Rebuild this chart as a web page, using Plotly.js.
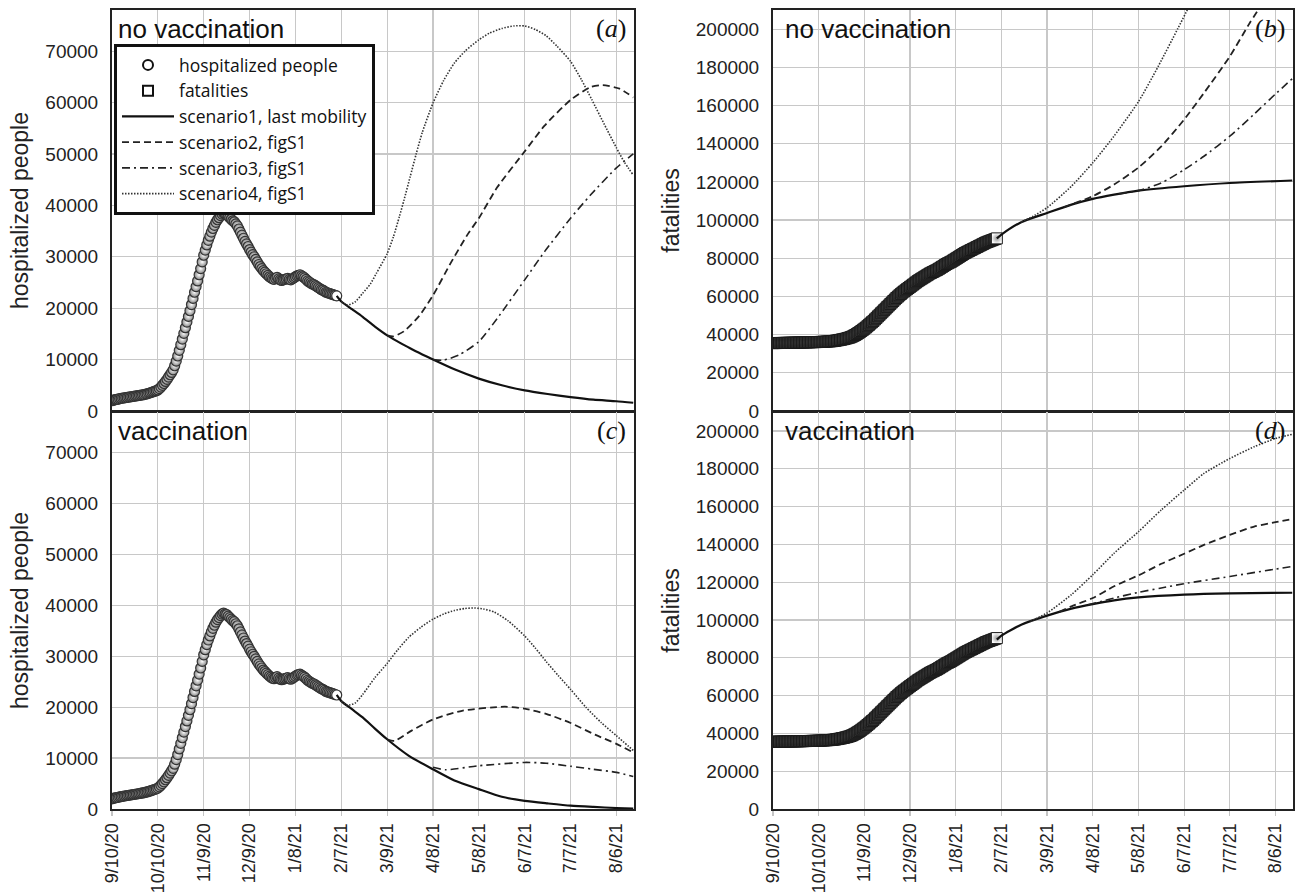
<!DOCTYPE html>
<html><head><meta charset="utf-8">
<script src="https://cdn.plot.ly/plotly-3.0.1.min.js"></script>
<style>html,body{margin:0;padding:0;background:#fff;}#chart{width:1301px;height:896px;}</style>
</head><body><div id="chart"></div>
<script>
// ---------------- DATA ----------------
const obsStart = '2020-09-10';
// observed hospitalized people, daily from 9/10/20 to 2/4/21
const hospitalized = [
 2000,2100,2200,2250,2300,2400,2450,2500,2550,2600,2650,2700,2750,2800,2850,2900,2950,3000,3050,3100,3150,
 3200,3300,3350,3450,3550,3650,3750,3850,3950,4100,
 4350,4650,5000,5350,5750,6150,6600,7050,7500,8000,
 8800,9700,10700,11800,12900,14000,15100,16200,17300,18400,19500,
 20700,21900,23100,24200,25300,26500,27700,29000,30300,
 31300,32300,33200,34000,34800,35500,36100,36700,37200,37600,38000,38300,38500,
 38300,38200,37900,37600,37300,37000,36800,36400,
 36000,35400,34800,34200,33600,33000,32500,32000,31400,
 30900,30400,30000,29500,29000,28500,28100,27700,27300,27000,26700,26400,26100,25900,25700,25600,
 25800,26000,25700,25500,25400,25500,
 25600,25700,25800,25600,25500,25700,25900,26100,26300,26400,26500,26300,
 26100,25900,25600,25300,25100,24900,24700,24600,24400,24200,24000,23800,23600,23500,23300,23100,23000,22900,22800,
 22700,22600,22500,22400
];
// observed cumulative fatalities, daily from 9/10/20 to 2/4/21
const fatalities = [
 35550,35560,35580,35600,35620,35630,35640,35660,35680,35690,35700,35720,35740,35760,35780,35800,35820,35840,35850,35870,35890,
 35920,35940,35970,35990,36020,36040,36060,36080,36100,36130,
 36170,36210,36250,36300,36350,36400,36450,36500,36590,36680,
 36800,36940,37090,37250,37400,37560,37750,37950,38170,38400,38650,
 39000,39400,39800,40300,40800,41300,41900,42500,43100,
 43700,44400,45100,45800,46500,47200,
 48000,48800,49600,50400,51200,52000,52800,
 53600,54400,55200,56000,56800,57600,58400,59200,
 59900,60600,61300,62000,62600,63200,63800,64400,65000,
 65600,66200,66800,67400,68000,68500,69000,69500,70000,70500,71000,
 71500,72000,72400,72800,73200,73600,74000,74500,75000,75500,76000,
 76500,77000,77400,77800,78200,78700,79200,79700,
 80200,80700,81200,81700,82200,82700,83100,83500,83900,84300,84700,85100,
 85500,85900,86300,86700,87100,87500,87900,88300,88600,88900,89200,
 89500,89800,90100,90400
];

// ---- panel (a): hospitalized, no vaccination ----
const aS1Dates = ['2021-02-04','2021-02-07','2021-02-14','2021-02-21','2021-03-01','2021-03-09','2021-03-16','2021-03-24','2021-04-01','2021-04-08','2021-04-22','2021-05-08','2021-05-23','2021-06-07','2021-06-22','2021-07-07','2021-07-22','2021-08-06','2021-08-17'];
const aS1Vals  = [22400,21300,19800,18300,16400,14700,13500,12200,11000,10000,8100,6300,5000,4000,3300,2700,2200,1900,1600];
const aS2Dates = ['2021-03-09','2021-03-13','2021-03-20','2021-03-30','2021-04-08','2021-04-20','2021-05-01','2021-05-08','2021-05-20','2021-06-07','2021-06-20','2021-07-07','2021-07-20','2021-07-28','2021-08-08','2021-08-17'];
const aS2Vals  = [14700,14500,15500,18500,22500,29000,34500,37500,43500,50500,55500,60500,63000,63400,62700,61000];
const aS3Dates = ['2021-04-08','2021-04-15','2021-04-25','2021-05-08','2021-05-20','2021-06-07','2021-06-20','2021-07-07','2021-07-20','2021-08-06','2021-08-17'];
const aS3Vals  = [10000,9900,10900,13500,18000,25500,31000,37500,42000,47300,50000];
const aS4Dates = ['2021-02-07','2021-02-11','2021-02-16','2021-02-21','2021-02-26','2021-03-02','2021-03-09','2021-03-13','2021-03-17','2021-03-20','2021-03-24','2021-03-28','2021-04-01','2021-04-08','2021-04-15','2021-04-22','2021-04-29','2021-05-08','2021-05-15','2021-05-23','2021-05-31','2021-06-07','2021-06-14','2021-06-21','2021-06-28','2021-07-07','2021-07-14','2021-07-21','2021-07-29','2021-08-06','2021-08-11','2021-08-17'];
const aS4Vals  = [21300,20600,21200,22900,24700,26800,30600,33800,37800,41000,45500,50000,54200,59900,64300,67700,70000,72200,73500,74400,74900,74900,74200,73000,71000,68000,64500,60500,55800,51200,48500,45900];

// ---- panel (c): hospitalized, vaccination ----
const cS1Dates = ['2021-02-04','2021-02-07','2021-02-14','2021-02-21','2021-03-01','2021-03-09','2021-03-23','2021-04-08','2021-04-22','2021-05-08','2021-05-23','2021-06-07','2021-06-22','2021-07-07','2021-07-22','2021-08-06','2021-08-17'];
const cS1Vals  = [22400,21200,19600,18000,15800,13700,10500,7800,5600,3900,2400,1600,1100,650,400,200,100];
const cS2Dates = ['2021-03-09','2021-03-14','2021-03-25','2021-04-08','2021-04-27','2021-05-25','2021-06-07','2021-06-21','2021-07-07','2021-07-23','2021-08-06','2021-08-17'];
const cS2Vals  = [13700,13400,15400,17600,19300,20100,19700,18700,16900,14600,12800,11100];
const cS3Dates = ['2021-04-08','2021-04-16','2021-05-08','2021-06-07','2021-06-21','2021-07-07','2021-07-22','2021-08-06','2021-08-17'];
const cS3Vals  = [8200,7700,8500,9150,9000,8400,7800,7200,6400];
const cS4Dates = ['2021-02-07','2021-02-11','2021-02-16','2021-02-21','2021-03-01','2021-03-09','2021-03-16','2021-03-23','2021-03-31','2021-04-08','2021-04-15','2021-04-22','2021-04-29','2021-05-05','2021-05-11','2021-05-18','2021-05-27','2021-06-07','2021-06-14','2021-06-21','2021-06-29','2021-07-07','2021-07-17','2021-07-27','2021-08-06','2021-08-17'];
const cS4Vals  = [21200,20400,20800,22500,25800,28600,31300,33700,35700,37300,38300,39000,39400,39500,39300,38700,37000,34000,31600,29000,26200,23500,20000,17000,14400,11500];

// ---- panel (b): fatalities, no vaccination ----
const bS1Dates = ['2021-02-04','2021-02-07','2021-02-20','2021-03-09','2021-03-25','2021-04-08','2021-04-22','2021-05-08','2021-06-07','2021-07-07','2021-08-17'];
const bS1Vals  = [90400,92400,98900,103700,108100,111100,113300,115400,117700,119400,120700];
const bS2Dates = ['2021-03-20','2021-04-08','2021-04-22','2021-05-08','2021-05-23','2021-06-07','2021-06-20','2021-07-07','2021-07-20','2021-07-26'];
const bS2Vals  = [106700,112500,118600,127500,138600,152600,166500,185700,203100,210500];
const bS3Dates = ['2021-04-25','2021-05-08','2021-05-23','2021-06-07','2021-06-20','2021-07-07','2021-07-23','2021-08-06','2021-08-17'];
const bS3Vals  = [113700,115400,119400,126400,133400,143900,155500,166000,174000];
const bS4Dates = ['2021-02-20','2021-03-01','2021-03-09','2021-03-25','2021-04-08','2021-04-22','2021-05-08','2021-05-21','2021-06-03','2021-06-10'];
const bS4Vals  = [98900,102500,106500,117700,130000,144000,162000,180500,200500,211500];

// ---- panel (d): fatalities, vaccination ----
const dS1Dates = ['2021-02-04','2021-02-07','2021-02-20','2021-03-09','2021-03-25','2021-04-08','2021-04-22','2021-05-08','2021-06-07','2021-07-07','2021-08-17'];
const dS1Vals  = [89600,91700,97500,102300,106000,108400,110400,111900,113400,114100,114400];
const dS2Dates = ['2021-03-17','2021-03-25','2021-04-08','2021-04-22','2021-05-08','2021-05-23','2021-06-07','2021-06-20','2021-07-07','2021-07-23','2021-08-06','2021-08-17'];
const dS2Vals  = [104300,107200,111600,117800,123600,129700,135000,139700,145000,149400,151700,153400];
const dS3Dates = ['2021-04-05','2021-04-22','2021-05-08','2021-05-23','2021-06-07','2021-07-07','2021-08-06','2021-08-17'];
const dS3Vals  = [108000,111600,114600,116900,119200,123000,126900,128300];
const dS4Dates = ['2021-02-26','2021-03-09','2021-03-25','2021-04-08','2021-04-22','2021-05-08','2021-05-23','2021-06-07','2021-06-20','2021-07-07','2021-07-23','2021-08-06','2021-08-17'];
const dS4Vals  = [99200,103700,113400,123900,135300,146700,158200,168700,177500,185400,191600,196000,198200];

const xTickStart = '2020-09-10';
const xRangeEnd = '2021-08-17 12:00';
const legendNames = ['hospitalized people','fatalities','scenario1, last mobility','scenario2, figS1','scenario3, figS1','scenario4, figS1'];
const panelTitles = ['no vaccination','no vaccination','vaccination','vaccination'];
const panelLetters = ['a','b','c','d'];

// ---------------- BUILD ----------------
function dailyDates(start, n){
  const p = start.split('-').map(Number);
  const t0 = Date.UTC(p[0], p[1]-1, p[2]);
  const out = [];
  for (let i=0;i<n;i++){ out.push(new Date(t0 + i*86400000).toISOString().slice(0,10)); }
  return out;
}
const obsDates = dailyDates(obsStart, hospitalized.length);

const st = {
  s1: {dash:'solid', width:2.2, color:'#111'},
  s2: {dash:'7px,4px', width:1.8, color:'#222'},
  s3: {dash:'8px,4px,2px,4px', width:1.6, color:'#222'},
  s4: {dash:'1.5px,1.5px', width:1.6, color:'#333'}
};
function line(xs, ys, s, xa, ya){
  return {x:xs, y:ys, type:'scatter', mode:'lines', xaxis:xa, yaxis:ya, showlegend:false,
    line:{dash:s.dash, width:s.width, color:s.color, shape:'spline', smoothing:0.6}, hoverinfo:'skip'};
}
function circles(xa, ya){
  const n = hospitalized.length;
  return {x:obsDates, y:hospitalized, type:'scatter', mode:'markers', xaxis:xa, yaxis:ya, showlegend:false,
    marker:{symbol:'circle', size:10,
      color: hospitalized.map((v,i)=> i===n-1 ? '#ffffff' : '#858585'),
      gradient:{type:'radial', color:'#ffffff'},
      line:{color:'#333', width:1.2}}};
}
function squares(xa, ya){
  const n = fatalities.length;
  return {x:obsDates, y:fatalities, type:'scatter', mode:'markers', xaxis:xa, yaxis:ya, showlegend:false,
    marker:{symbol:'square', size:11,
      color: fatalities.map((v,i)=> i===n-1 ? '#ffffff' : '#3a3a3a'),
      gradient:{type:'radial', color:'#9a9a9a'},
      line:{color:'#1a1a1a', width:1}}};
}
// legend-only entries (no data points)
function legendMarker(name, symbol){
  return {x:[null], y:[null], type:'scatter', mode:'markers', name:name, showlegend:true,
    marker:{symbol:symbol, size:10, color:'#fff', line:{color:'#111', width:2}}};
}
function legendLine(name, s){
  return {x:[null], y:[null], type:'scatter', mode:'lines', name:name, showlegend:true,
    line:{dash:s.dash, width:s.width, color:s.color}};
}

const traces = [
  circles('x','y'),
  line(aS1Dates, aS1Vals, st.s1,'x','y'),
  line(aS2Dates, aS2Vals, st.s2,'x','y'),
  line(aS3Dates, aS3Vals, st.s3,'x','y'),
  line(aS4Dates, aS4Vals, st.s4,'x','y'),
  squares('x2','y2'),
  line(bS1Dates, bS1Vals, st.s1,'x2','y2'),
  line(bS2Dates, bS2Vals, st.s2,'x2','y2'),
  line(bS3Dates, bS3Vals, st.s3,'x2','y2'),
  line(bS4Dates, bS4Vals, st.s4,'x2','y2'),
  circles('x3','y3'),
  line(cS1Dates, cS1Vals, st.s1,'x3','y3'),
  line(cS2Dates, cS2Vals, st.s2,'x3','y3'),
  line(cS3Dates, cS3Vals, st.s3,'x3','y3'),
  line(cS4Dates, cS4Vals, st.s4,'x3','y3'),
  squares('x4','y4'),
  line(dS1Dates, dS1Vals, st.s1,'x4','y4'),
  line(dS2Dates, dS2Vals, st.s2,'x4','y4'),
  line(dS3Dates, dS3Vals, st.s3,'x4','y4'),
  line(dS4Dates, dS4Vals, st.s4,'x4','y4'),
  legendMarker(legendNames[0],'circle'),
  legendMarker(legendNames[1],'square'),
  legendLine(legendNames[2], st.s1),
  legendLine(legendNames[3], st.s2),
  legendLine(legendNames[4], st.s3),
  legendLine(legendNames[5], st.s4)
];

const W = 1301, H = 896;
const leftDom = [112/W, 634/W], rightDom = [773/W, 1293/W];
const topDom = [1-411/H, 1-10/H], botDom = [1-809/H, 1-412/H];
const tickFont = {family:'Liberation Sans, Arial, sans-serif', size:19, color:'#222'};
const xTickFont = {family:'Liberation Sans, Arial, sans-serif', size:18, color:'#222'};
const titleFont = {family:'Liberation Sans, Arial, sans-serif', size:23, color:'#222'};

function xAxis(dom, anchor, labels){
  return {domain:dom, anchor:anchor, type:'date', range:[xTickStart, xRangeEnd],
    tick0:xTickStart, dtick:30*86400000, tickformat:'%-m/%-d/%y', tickangle:-90,
    showticklabels:labels, tickfont:xTickFont, ticks: labels ? 'outside' : '', ticklen:5, tickcolor:'#c4c4c4', tickwidth:1.2,
    showgrid:true, gridcolor:'#c8c8c8', gridwidth:1.2, showline:true, linecolor:'#222', linewidth:2, mirror:true,
    zeroline:false, fixedrange:true};
}
function yAxis(dom, anchor, range, dtick, title){
  return {domain:dom, anchor:anchor, range:range, dtick:dtick, tick0:0, tickformat:'d',
    tickfont:tickFont, ticklabelstandoff:8, ticks:'',
    title:{text:title, font:titleFont, standoff:10},
    showgrid:true, gridcolor:'#c8c8c8', gridwidth:1.2, showline:true, linecolor:'#222', linewidth:2, mirror:true,
    zeroline:false, fixedrange:true};
}

const annotations = [];
const refs = [['x','y'],['x2','y2'],['x3','y3'],['x4','y4']];
refs.forEach((r,i)=>{
  annotations.push({xref:r[0]+' domain', yref:r[1]+' domain', x:0, y:1, xanchor:'left', yanchor:'top',
    xshift: (i%2===0)? 4 : 10, yshift:-2, showarrow:false, text:panelTitles[i],
    font:{family:'Liberation Sans, Arial, sans-serif', size:26, color:'#111'}});
  annotations.push({xref:r[0]+' domain', yref:r[1]+' domain', x:1, y:1, xanchor:'right', yanchor:'top',
    xshift:-6, yshift:-2, showarrow:false, text:'(<i>'+panelLetters[i]+'</i>)',
    font:{family:'Liberation Serif, Times New Roman, serif', size:26, color:'#111'}});
});

const layout = {
  width:W, height:H, margin:{l:0,r:0,t:0,b:0}, paper_bgcolor:'#fff', plot_bgcolor:'#fff',
  showlegend:true,
  legend:{x:114/W, y:1-44/H, xanchor:'left', yanchor:'top', bgcolor:'#fff', bordercolor:'#111', borderwidth:3,
    font:{family:'Open Sans, Lato, sans-serif', size:17.5, color:'#111'}, tracegroupgap:0, itemwidth:52},
  xaxis: xAxis(leftDom,'y',false),
  yaxis: yAxis(topDom,'x',[0,78000],10000,'hospitalized people'),
  xaxis2: xAxis(rightDom,'y2',false),
  yaxis2: yAxis(topDom,'x2',[0,210000],20000,'fatalities'),
  xaxis3: xAxis(leftDom,'y3',true),
  yaxis3: yAxis(botDom,'x3',[0,78000],10000,'hospitalized people'),
  xaxis4: xAxis(rightDom,'y4',true),
  yaxis4: yAxis(botDom,'x4',[0,210000],20000,'fatalities'),
  annotations: annotations
};

Plotly.newPlot('chart', traces, layout, {displayModeBar:false, staticPlot:true});
</script>
</body></html>
